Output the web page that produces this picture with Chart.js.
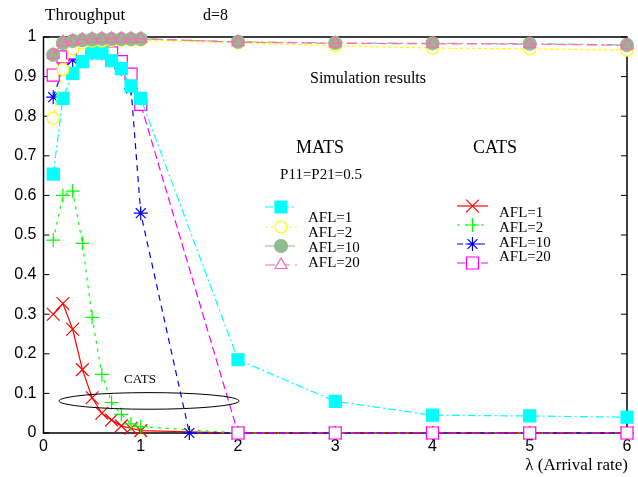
<!doctype html>
<html lang="en">
  <head>
    <meta charset="utf-8">
    <title>Throughput d=8</title>
    <style>
      * { margin: 0; padding: 0; }
      body { background: white; }
      #myChart { display: block; }
    </style>
  </head>
  <body>
    <canvas id="myChart" width="638" height="477"></canvas>
    <script src="https://cdn.jsdelivr.net/npm/chart.js"></script>
    <script>
    // arrival rates used for most curves
    const lambdas = [0.1, 0.2, 0.3, 0.4, 0.5, 0.6, 0.7, 0.8, 0.9, 1.0, 2, 3, 4, 5, 6];
    // CATS AFL=10 has an extra point at 1.5
    const lambdasC10 = [0.1, 0.2, 0.3, 0.4, 0.5, 0.6, 0.7, 0.8, 0.9, 1.0, 1.5, 2, 3, 4, 5, 6];

    const matsAfl1  = [0.654, 0.845, 0.908, 0.938, 0.96, 0.96, 0.94, 0.92, 0.876, 0.845, 0.185, 0.08, 0.045, 0.043, 0.04];
    const matsAfl2  = [0.795, 0.918, 0.971, 0.985, 0.99, 0.99, 0.991, 0.992, 0.992, 0.992, 0.985, 0.978, 0.972, 0.97, 0.967];
    const matsAfl10 = [0.955, 0.985, 0.99, 0.992, 0.994, 0.995, 0.995, 0.995, 0.995, 0.995, 0.988, 0.985, 0.984, 0.983, 0.98];
    const matsAfl20 = [0.955, 0.987, 0.99, 0.993, 0.995, 0.996, 0.996, 0.996, 0.996, 0.996, 0.987, 0.984, 0.983, 0.982, 0.979];

    const catsAfl1  = [0.30, 0.327, 0.262, 0.16, 0.089, 0.05, 0.033, 0.018, 0.012, 0.006, 0, 0, 0, 0, 0];
    const catsAfl2  = [0.487, 0.60, 0.611, 0.479, 0.292, 0.148, 0.077, 0.047, 0.023, 0.016, 0, 0, 0, 0, 0];
    const catsAfl10 = [0.848, 0.92, 0.942, 0.955, 0.96, 0.96, 0.945, 0.92, 0.87, 0.555, 0, 0, 0, 0, 0, 0];
    const catsAfl20 = [0.904, 0.95, 0.96, 0.965, 0.965, 0.965, 0.96, 0.938, 0.906, 0.83, 0, 0, 0, 0, 0];

    const xTicks = [0, 1, 2, 3, 4, 5, 6];
    const yTicks = [0, 0.1, 0.2, 0.3, 0.4, 0.5, 0.6, 0.7, 0.8, 0.9, 1];

    function pts(xs, ys) {
      return xs.map((x, i) => ({x: x, y: ys[i]}));
    }

    const serif = '"Liberation Serif", "DejaVu Serif", serif';

    // rank = drawing sequence (CATS first, MATS on top)
    const series = [
      {label: 'AFL=1',  group: 'MATS', rank: 4, data: pts(lambdas, matsAfl1),  color: '#00ffff', fill: '#00ffff', style: 'rect', r: 8.5, dash: [8, 3, 2, 3]},
      {label: 'AFL=2',  group: 'MATS', rank: 5, data: pts(lambdas, matsAfl2),  color: '#ffff00', fill: '#ffffff', style: 'circle', r: 6, dash: [3, 3]},
      {label: 'AFL=10', group: 'MATS', rank: 6, data: pts(lambdas, matsAfl10), color: '#8fbc8f', fill: '#8fbc8f', style: 'circle', r: 6.5, dash: [10, 4, 2, 4]},
      {label: 'AFL=20', group: 'MATS', rank: 7, data: pts(lambdas, matsAfl20), color: '#ff69b4', fill: 'rgba(0,0,0,0)', style: 'triangle', r: 7, dash: [10, 5]},
      {label: 'AFL=1',  group: 'CATS', rank: 0, data: pts(lambdas, catsAfl1),  color: '#ff0000', fill: '#ff0000', style: 'crossRot', r: 9, dash: []},
      {label: 'AFL=2',  group: 'CATS', rank: 1, data: pts(lambdas, catsAfl2),  color: '#00ff00', fill: '#00ff00', style: 'cross', r: 7, dash: [3, 5]},
      {label: 'AFL=10', group: 'CATS', rank: 2, data: pts(lambdasC10, catsAfl10), color: '#0000ff', fill: '#0000ff', style: 'star', r: 7, dash: [6, 5]},
      {label: 'AFL=20', group: 'CATS', rank: 3, data: pts(lambdas, catsAfl20), color: '#ff00ff', fill: '#ffffff', style: 'rect', r: 8.5, dash: [8, 4]}
    ];

    const datasets = series.map(s => ({
      label: s.group + ' ' + s.label,
      data: s.data,
      borderColor: s.color,
      backgroundColor: s.fill,
      pointBackgroundColor: s.fill,
      pointBorderColor: s.color,
      pointStyle: s.style,
      pointRadius: s.r,
      pointBorderWidth: 1.2,
      borderWidth: 1.2,
      borderDash: s.dash,
      tension: 0,
      fill: false,
      clip: false,
      order: 8 - s.rank
    }));

    // frame and inward ticks go under the curves
    const frame = {
      id: 'frame',
      beforeDatasetsDraw(chart) {
        const ctx = chart.ctx;
        const a = chart.chartArea;
        const xs = chart.scales.x, ys = chart.scales.y;
        ctx.save();
        ctx.strokeStyle = '#000';
        ctx.lineWidth = 1.5;
        ctx.setLineDash([]);
        ctx.strokeRect(a.left, a.top, a.right - a.left, a.bottom - a.top);
        ctx.lineWidth = 1;
        ctx.beginPath();
        xTicks.forEach(v => {
          const px = xs.getPixelForValue(v);
          ctx.moveTo(px, a.bottom); ctx.lineTo(px, a.bottom - 6);
          ctx.moveTo(px, a.top); ctx.lineTo(px, a.top + 6);
        });
        yTicks.forEach(v => {
          const py = ys.getPixelForValue(v);
          ctx.moveTo(a.left, py); ctx.lineTo(a.left + 6, py);
          ctx.moveTo(a.right, py); ctx.lineTo(a.right - 6, py);
        });
        ctx.stroke();
        ctx.restore();
      }
    };

    // annotations and the hand placed legend
    const decorations = {
      id: 'decorations',
      afterDraw(chart) {
        const ctx = chart.ctx;
        const xs = chart.scales.x, ys = chart.scales.y;
        ctx.save();
        ctx.strokeStyle = '#000';
        ctx.lineWidth = 1;
        ctx.setLineDash([]);

        // ellipse around the CATS curves near zero
        const cx = xs.getPixelForValue(1.085), cy = ys.getPixelForValue(0.081);
        const rx = xs.getPixelForValue(1.085 + 0.925) - cx;
        const ry = cy - ys.getPixelForValue(0.081 + 0.021);
        ctx.beginPath();
        ctx.ellipse(cx, cy, rx, ry, 0, 0, Math.PI * 2);
        ctx.stroke();

        ctx.fillStyle = '#000';
        ctx.textBaseline = 'middle';
        ctx.textAlign = 'left';
        ctx.font = '17px ' + serif;
        ctx.fillText('Throughput', 45, 16);
        ctx.font = '16px ' + serif;
        ctx.fillText('d=8', 203, 16);
        ctx.fillText('Simulation results', 310, 79);
        ctx.textAlign = 'right';
        ctx.font = '17px ' + serif;
        ctx.fillText('\u03bb (Arrival rate)', 628, 466);
        ctx.textAlign = 'center';
        ctx.font = '18px ' + serif;
        ctx.fillText('MATS', 320, 148);
        ctx.fillText('CATS', 495, 148);
        ctx.font = '15px ' + serif;
        ctx.fillText('P11=P21=0.5', 321, 175);
        ctx.font = '13px ' + serif;
        ctx.fillText('CATS', 140, 380);

        // legends
        const matsRows = [207, 227, 246, 265], matsText = [218, 233, 248, 263];
        const catsRows = [206, 225, 244, 263], catsText = [213, 228, 243, 257];
        ctx.font = '15px ' + serif;
        ctx.textAlign = 'left';
        series.forEach((s, i) => {
          const mats = s.group === 'MATS';
          const k = i % 4;
          const y = mats ? matsRows[k] : catsRows[k];
          const x0 = mats ? 265 : 457, x1 = mats ? 297 : 488;
          ctx.strokeStyle = s.color;
          ctx.lineWidth = 1.2;
          ctx.setLineDash(s.dash);
          ctx.beginPath();
          ctx.moveTo(x0, y); ctx.lineTo(x1, y);
          ctx.stroke();
          ctx.setLineDash([]);
          ctx.fillStyle = s.fill === 'rgba(0,0,0,0)' ? '#ffffff' : s.fill;
          if (Chart.helpers && Chart.helpers.drawPoint) {
            Chart.helpers.drawPoint(ctx, {pointStyle: s.style, radius: s.r, rotation: 0, borderWidth: 1.2}, (x0 + x1) / 2, y);
          }
          ctx.fillStyle = '#000';
          ctx.fillText(s.label, mats ? 308 : 499, mats ? matsText[k] : catsText[k]);
        });
        ctx.restore();
      }
    };

    const config = {
      type: 'line',
      data: {datasets},
      options: {
        responsive: false,
        animation: false,
        layout: {padding: {top: 37, right: 11, left: 0, bottom: 0}},
        plugins: {
          legend: {display: false},
          tooltip: {enabled: false}
        },
        scales: {
          x: {
            type: 'linear',
            min: 0,
            max: 6,
            afterFit: s => { s.height = 44; },
            afterBuildTicks: s => { s.ticks = xTicks.map(v => ({value: v})); },
            ticks: {
              color: '#000',
              padding: 4,
              font: {family: '"Liberation Sans", Arial, sans-serif', size: 16},
              maxRotation: 0
            },
            grid: {display: false, drawTicks: false},
            border: {display: false}
          },
          y: {
            min: 0,
            max: 1,
            afterFit: s => { s.width = 43.5; },
            afterBuildTicks: s => { s.ticks = yTicks.map(v => ({value: v})); },
            ticks: {
              color: '#000',
              padding: 7,
              font: {family: '"Liberation Sans", Arial, sans-serif', size: 16},
              callback: v => String(+v.toFixed(1))
            },
            grid: {display: false, drawTicks: false},
            border: {display: false}
          }
        }
      },
      plugins: [frame, decorations]
    };

    new Chart(document.getElementById('myChart'), config);
    </script>
  </body>
</html>
